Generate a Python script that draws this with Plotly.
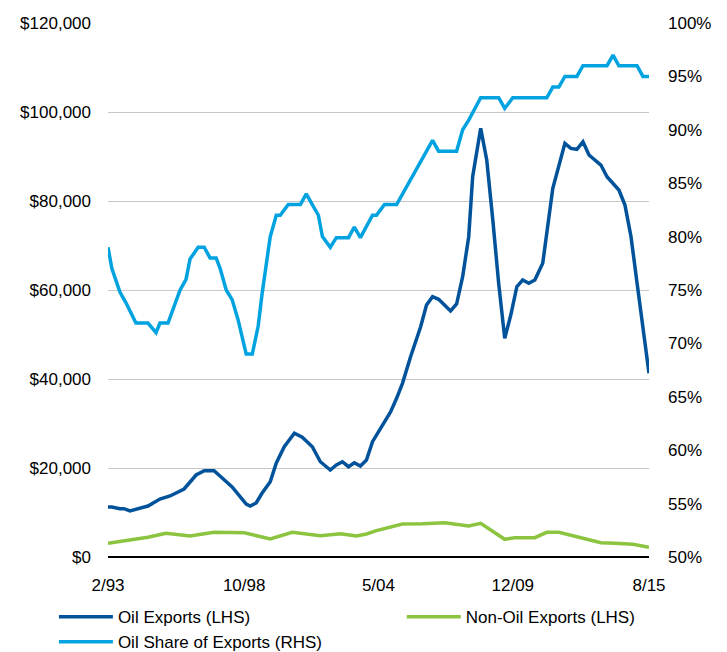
import plotly.graph_objects as go

# oil exports, $ (LHS)
oil_dates = ["1993-02", "1993-04", "1993-08", "1993-10", "1994-01", "1994-05", "1994-10",
             "1995-04", "1995-09", "1996-04", "1996-10", "1997-02", "1997-07", "1997-11",
             "1998-04", "1998-11", "1999-01", "1999-04", "1999-07", "1999-11", "2000-02",
             "2000-06", "2000-11", "2001-03", "2001-08", "2001-12", "2002-05", "2002-08",
             "2002-11", "2003-02", "2003-05", "2003-08", "2003-11", "2004-02", "2004-06",
             "2004-11", "2005-02", "2005-05", "2005-09", "2006-02", "2006-05", "2006-08",
             "2006-11", "2007-03", "2007-05", "2007-08", "2007-11", "2008-02", "2008-04",
             "2008-08", "2008-11", "2009-02", "2009-05", "2009-08", "2009-11", "2010-02",
             "2010-05", "2010-08", "2010-11", "2011-03", "2011-08", "2012-02", "2012-05",
             "2012-08", "2012-11", "2013-02", "2013-08", "2013-11", "2014-05", "2014-08",
             "2014-11", "2015-02", "2015-08"]
oil_exports = [11240, 11240, 10850, 10850, 10340, 10790, 11460,
               13030, 13710, 15280, 18430, 19390, 19390, 17750,
               15730, 11910, 11460, 12130, 14380, 16920, 21120,
               24780, 27800, 26900, 24780, 21410, 19550, 20670,
               21410, 20290, 21190, 20450, 21800, 25910, 28920,
               32580, 35660, 39030, 45010, 51750, 56620, 58490,
               57900, 56240, 55280, 56850, 62980, 71970, 85450,
               96330, 89210, 75720, 61500, 49140, 54380, 60740,
               62240, 61500, 62240, 65990, 82850, 92960, 91830,
               91610, 93320, 90330, 88080, 85450, 82460, 79090,
               71970, 61500, 41280]

# non-oil exports, $ (LHS)
nonoil_dates = ["1993-02", "1993-12", "1994-10", "1995-07", "1996-07", "1997-07", "1998-10",
                "1999-11", "2000-10", "2001-12", "2002-10", "2003-06", "2003-11", "2004-04",
                "2005-05", "2006-03", "2007-02", "2008-02", "2008-08", "2009-08", "2010-01",
                "2010-11", "2011-05", "2011-11", "2012-08", "2013-08", "2014-03", "2014-12",
                "2015-08"]
nonoil_exports = [3070, 3820, 4420, 5320, 4720, 5550, 5460,
                  4040, 5550, 4790, 5240, 4720, 5170, 5920,
                  7420, 7490, 7710, 6970, 7570, 3970, 4340,
                  4340, 5550, 5550, 4570, 3220, 3080, 2850,
                  2180]

# oil share of exports, % (RHS)
share_dates = ["1993-02", "1993-04", "1993-08", "1993-11", "1994-04", "1994-10", "1995-02",
               "1995-04", "1995-08", "1995-10", "1996-02", "1996-05", "1996-07", "1996-11",
               "1997-02", "1997-05", "1997-08", "1997-10", "1998-01", "1998-04", "1998-07",
               "1998-11", "1999-02", "1999-05", "1999-07", "1999-11", "2000-02", "2000-04",
               "2000-08", "2001-02", "2001-05", "2001-08", "2001-11", "2002-01", "2002-05",
               "2002-08", "2003-02", "2003-05", "2003-08", "2004-02", "2004-04", "2004-08",
               "2005-02", "2006-08", "2006-11", "2007-08", "2007-11", "2008-02", "2008-08",
               "2009-05", "2009-08", "2009-12", "2011-05", "2011-08", "2011-11", "2012-02",
               "2012-08", "2012-11", "2013-11", "2014-02", "2014-05", "2015-02", "2015-05",
               "2015-08"]
oil_share = [79.0, 77.0, 74.8, 73.8, 71.9, 71.9, 71.0,
             71.9, 71.9, 72.9, 75.0, 76.0, 77.9, 79.0,
             79.0, 78.0, 78.0, 77.0, 75.0, 74.1, 72.2,
             69.0, 69.0, 71.6, 74.7, 80.0, 82.0, 82.0,
             83.0, 83.0, 84.0, 83.0, 82.0, 80.0, 79.0,
             79.9, 79.9, 80.9, 79.9, 82.0, 82.0, 83.0,
             83.0, 89.0, 88.0, 88.0, 90.0, 90.9, 93.0,
             93.0, 92.0, 93.0, 93.0, 94.0, 94.0, 95.0,
             95.0, 96.0, 96.0, 97.0, 96.0, 96.0, 95.0,
             95.0]

tick_dates = ["1993-02-01", "1998-10-01", "2004-05-01", "2009-12-01", "2015-08-01"]
tick_labels = ["2/93", "10/98", "5/04", "12/09", "8/15"]

left_ticks = [0, 20000, 40000, 60000, 80000, 100000, 120000]
left_labels = ["$0", "$20,000", "$40,000", "$60,000", "$80,000", "$100,000", "$120,000"]
right_ticks = list(range(50, 101, 5))
right_labels = [f"{v}%" for v in right_ticks]

DARK = "#00539B"
LIGHT = "#00A3E0"
GREEN = "#8CC43F"
FONT = "Liberation Sans, Arial, sans-serif"

fig = go.Figure()
fig.add_trace(go.Scatter(x=oil_dates, y=oil_exports, name="Oil Exports (LHS)",
                         mode="lines", line=dict(color=DARK, width=3.5)))
fig.add_trace(go.Scatter(x=nonoil_dates, y=nonoil_exports, name="Non-Oil Exports (LHS)",
                         mode="lines", line=dict(color=GREEN, width=3.5), legend="legend2"))
fig.add_trace(go.Scatter(x=share_dates, y=oil_share, name="Oil Share of Exports (RHS)",
                         mode="lines", line=dict(color=LIGHT, width=3.5), yaxis="y2"))

legend_style = dict(orientation="v", yanchor="top", xanchor="left", itemwidth=54,
                    tracegroupgap=0, font=dict(size=17), bgcolor="rgba(0,0,0,0)")

# the page body adds an 8px offset, so margins are shifted by that amount
fig.update_layout(
    width=727, height=652,
    margin=dict(l=100, r=86, t=15, b=103, autoexpand=False),
    paper_bgcolor="white", plot_bgcolor="white",
    font=dict(family=FONT, size=17, color="#000000"),
    showlegend=True,
    legend=dict(x=-0.1, y=-0.079, **legend_style),
    legend2=dict(x=0.543, y=-0.079, **legend_style),
    xaxis=dict(type="date", range=["1993-02-01", "2015-08-01"],
               tickvals=tick_dates, ticktext=tick_labels,
               showgrid=False, showline=False, zeroline=False, ticks="",
               ticklabelstandoff=16, automargin=False),
    yaxis=dict(range=[0, 120000], tickvals=left_ticks, ticktext=left_labels,
               showgrid=True, gridcolor="#C8C8C8", gridwidth=1,
               zeroline=True, zerolinecolor="#000000", zerolinewidth=1.5,
               showline=False, ticks="", ticklabelstandoff=16, automargin=False),
    yaxis2=dict(range=[50, 100], tickvals=right_ticks, ticktext=right_labels,
                overlaying="y", side="right", showgrid=False, zeroline=False,
                showline=False, ticks="", ticklabelstandoff=18, automargin=False),
)

fig.write_html("out.html")
